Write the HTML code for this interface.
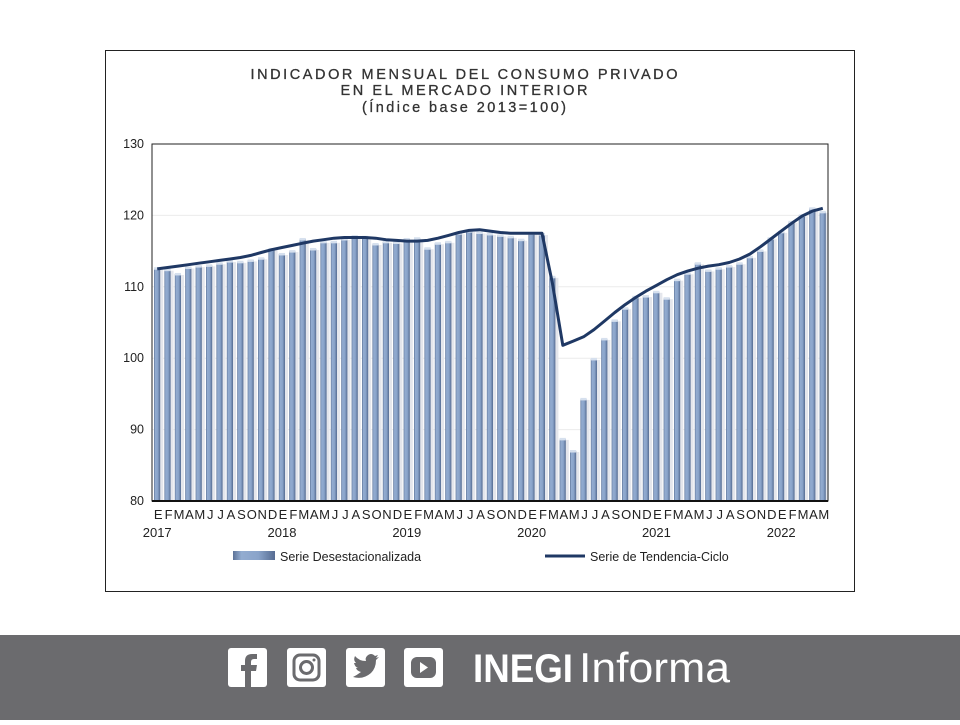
<!DOCTYPE html>
<html><head><meta charset="utf-8">
<style>
body{margin:0;width:960px;height:720px;background:#fff;overflow:hidden;font-family:"Liberation Sans",Arial,sans-serif;position:relative}
#footer{position:absolute;left:0;top:635px;width:960px;height:85px;background:#6b6b6e}
</style></head><body>
<svg id="chart" width="960" height="635" style="position:absolute;left:0;top:0">
<defs>
<linearGradient id="bg" x1="0" x2="1" y1="0" y2="0">
<stop offset="0" stop-color="#5d7398"/><stop offset="0.2" stop-color="#93acd0"/><stop offset="0.6" stop-color="#8aa4ca"/><stop offset="1" stop-color="#566c92"/>
</linearGradient>
</defs>
<rect x="105.5" y="50.5" width="749" height="541" fill="#fff" stroke="#222" stroke-width="1"/>
<g fill="#333" font-size="14.5" text-anchor="middle" stroke="#333" stroke-width="0.3">
<text x="464" y="79" textLength="427" lengthAdjust="spacing">INDICADOR MENSUAL DEL CONSUMO PRIVADO</text>
<text x="464" y="95" textLength="247" lengthAdjust="spacing">EN EL MERCADO INTERIOR</text>
<text x="464" y="112" textLength="204" lengthAdjust="spacing">(Índice base 2013=100)</text>
</g>
<g id="grid"></g>
<g id="bars"></g>
<path id="trend" fill="none" stroke="#1f3864" stroke-width="3" stroke-linejoin="round"/>
<rect x="152" y="144" width="676" height="357" fill="none" stroke="#222" stroke-width="1"/>
<line x1="152" y1="501" x2="828" y2="501" stroke="#111" stroke-width="2"/>
<g id="yticks" font-size="12.5" fill="#222" text-anchor="end"></g>
<g id="xticks" font-size="13" fill="#222" text-anchor="middle"></g>
<g font-size="12.5" fill="#222">
<rect x="233" y="551" width="42" height="9" fill="url(#bg)"/>
<text x="280" y="561">Serie Desestacionalizada</text>
<line x1="545" y1="556" x2="585" y2="556" stroke="#1f3864" stroke-width="3"/>
<text x="590" y="561">Serie de Tendencia-Ciclo</text>
</g>
</svg>
<div id="footer">
<svg width="960" height="85">
<g><rect x="228" y="13" width="39" height="39" rx="3" fill="#fff"/><path d="M251 52 V36 h5 l1-6 h-6 v-3 q0-3 3-3 h3 v-5 h-5 q-7 0-7 7 v4 h-4 v6 h4 v16z" fill="#6b6b6e"/></g>
<g><rect x="287" y="13" width="39" height="39" rx="3" fill="#fff"/><rect x="294" y="20" width="25" height="25" rx="6" fill="none" stroke="#6b6b6e" stroke-width="3"/><circle cx="306.5" cy="32.5" r="6" fill="none" stroke="#6b6b6e" stroke-width="3"/><circle cx="314" cy="25" r="1.5" fill="#6b6b6e"/></g>
<g><rect x="346" y="13" width="39" height="39" rx="3" fill="#fff"/><path d="M353 42 q10 3 18-4 q5-5 5-13 l3-3 -3 1 2-3 -3 1 q-4-4-8 0 q-2 2-1 5 q-7 0-11-5 q-2 4 1 7 l-2 0 q1 4 4 5 l-2 0 q1 3 5 4 q-4 3-8 5z" fill="#6b6b6e"/></g>
<g><rect x="404" y="13" width="39" height="39" rx="3" fill="#fff"/><rect x="411" y="22" width="25" height="21" rx="6" fill="#6b6b6e"/><path d="M420 27 v11 l8-5.5z" fill="#fff"/></g>
<g fill="#fff">
<text x="473" y="47" font-size="40" font-weight="bold" textLength="100" lengthAdjust="spacingAndGlyphs">INEGI</text>
<text x="579" y="47" font-size="42" textLength="151" lengthAdjust="spacingAndGlyphs">Informa</text>
</g>
</svg>
</div>
<script>
const years = ['2017','2018','2019','2020','2021','2022'];
const monthLetters = ['E','F','M','A','M','J','J','A','S','O','N','D'];
const yTicks = [80,90,100,110,120,130];
const seasAdj = [112.6,112.4,111.8,112.7,112.9,113.0,113.3,113.6,113.5,113.7,114.0,115.3,
114.6,115.0,116.7,115.3,116.3,116.3,116.7,117.1,117.0,116.0,116.3,116.2,
116.7,116.8,115.4,116.1,116.3,117.5,117.8,117.6,117.4,117.2,117.0,116.6,
117.5,117.4,111.4,88.7,87.0,94.3,99.9,102.7,105.3,107.0,108.6,108.7,
109.3,108.4,111.0,111.9,113.3,112.3,112.6,112.9,113.3,114.2,115.1,116.8,
117.7,119.1,120.0,121.0,120.5];
const trend = [112.5,112.7,112.9,113.1,113.3,113.5,113.7,113.9,114.1,114.4,114.8,115.2,
115.5,115.8,116.1,116.4,116.6,116.8,116.9,116.9,116.9,116.8,116.6,116.5,
116.4,116.4,116.5,116.8,117.2,117.6,117.9,118.0,117.8,117.6,117.5,117.5,
117.5,117.5,110.5,101.8,102.4,103.0,104.0,105.2,106.4,107.5,108.5,109.4,
110.2,111.0,111.7,112.2,112.6,112.9,113.1,113.4,113.9,114.6,115.6,116.7,
117.8,118.9,119.9,120.6,121.0];
const NS='http://www.w3.org/2000/svg';
const X0=152,W=676,Y0=501,H=357,N=seasAdj.length,bw=W/N;
const y=v=>Y0-(v-80)/50*H;
const xc=i=>X0+(i+0.5)*bw;
function mk(t,a,p){const e=document.createElementNS(NS,t);for(const k in a)e.setAttribute(k,a[k]);p.appendChild(e);return e;}
const grid=document.getElementById('grid'),yt=document.getElementById('yticks');
yTicks.forEach(v=>{
 const l=mk('line',{x1:X0,x2:X0+W,y1:y(v),y2:y(v),stroke:'#ececec','stroke-width':1},grid);
 
 
 const t=mk('text',{x:X0-8,y:y(v)+4},yt);t.textContent=v;
 
 
});
const bars=document.getElementById('bars');
seasAdj.forEach((v,i)=>{
 const s=mk('rect',{x:xc(i)+2.8,y:y(v)+1,width:3.2,height:Y0-y(v)-1,fill:'#e4e6ec'},bars);
 
 
 const r=mk('rect',{x:xc(i)-3.2,y:y(v),width:6.2,height:Y0-y(v),fill:'url(#bg)'},bars);
 
 
 const c=mk('rect',{x:xc(i)-3.2,y:y(v)-1,width:6.2,height:2.5,fill:'#d6e0ee'},bars);
 
 
});
document.getElementById('trend').setAttribute('d',trend.map((v,i)=>(i?'L':'M')+xc(i).toFixed(1)+' '+y(v).toFixed(1)).join(''));
const xt=document.getElementById('xticks');
for(let i=0;i<N;i++){
 const t=mk('text',{x:xc(i)+1,y:519},xt);t.textContent=monthLetters[i%12];
 
 
 if(i%12===0){const yy=mk('text',{x:xc(i),y:537},xt);yy.textContent=years[i/12];
 
 }
}
</script>
</body></html>
